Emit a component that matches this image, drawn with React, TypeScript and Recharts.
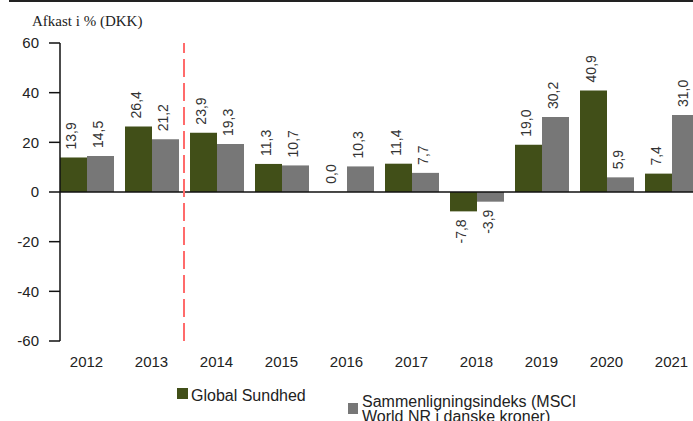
import { Bar, BarChart, LabelList, ReferenceLine, XAxis, YAxis } from "recharts";

const years = ["2012", "2013", "2014", "2015", "2016", "2017", "2018", "2019", "2020", "2021"];
const fund = [13.9, 26.4, 23.9, 11.3, 0.0, 11.4, -7.8, 19.0, 40.9, 7.4];
const index = [14.5, 21.2, 19.3, 10.7, 10.3, 7.7, -3.9, 30.2, 5.9, 31.0];
const yTicks = [-60, -40, -20, 0, 20, 40, 60];

const rows = years.map((year, i) => ({ year, fund: fund[i], index: index[i] }));

const SANS = '"Liberation Sans", Arial, Helvetica, sans-serif';
const GREEN = "#414f18";
const GREY = "#777777";

const fmt = (v: number) => Number(v).toFixed(1).replace(".", ",");

function ValueLabel(props: any) {
  const { x, y, width, height, value } = props;
  const h = Number(height) || 0;
  const top = Math.min(y, y + h);
  const bottom = Math.max(y, y + h);
  const cx = x + width / 2 + 2.5;
  const pos = Number(value) >= 0;
  const ly = pos ? top - 8 : bottom + 8;
  return (
    <text
      x={cx}
      y={ly}
      transform={`rotate(-90 ${cx} ${ly})`}
      textAnchor={pos ? "start" : "end"}
      fontSize={14}
      fontFamily={SANS}
      fill="#333"
    >
      {fmt(value)}
    </text>
  );
}

export default function App() {
  return (
    <div
      style={{
        position: "absolute",
        left: 0,
        top: 0,
        width: 693,
        height: 421,
        overflow: "hidden",
        background: "#fff",
      }}
    >
      <div style={{ position: "absolute", left: 9, right: 0, top: 0, height: 2, background: "#222" }} />
      <div
        style={{
          position: "absolute",
          left: 32,
          top: 14,
          fontFamily: '"Liberation Serif", "Times New Roman", serif',
          fontSize: 15,
          lineHeight: "15px",
          color: "#222",
          whiteSpace: "nowrap",
        }}
      >
        Afkast i % (DKK)
      </div>

      <div style={{ position: "absolute", left: 0, top: 0 }}>
        <BarChart
          width={704}
          height={421}
          data={rows}
          margin={{ top: 43, right: 0, bottom: 0, left: 0 }}
          barCategoryGap={6}
          barGap={0}
        >
          <XAxis
            dataKey="year"
            height={80}
            padding={{ left: -6, right: 0 }}
            axisLine={false}
            tickLine={false}
            tickSize={0}
            tickMargin={15}
            tick={{ fontSize: 15, fontFamily: SANS, fill: "#222" }}
            interval={0}
          />
          <YAxis
            width={60}
            domain={[-60, 60]}
            ticks={yTicks}
            interval={0}
            axisLine={{ stroke: "#111", strokeWidth: 1.5 }}
            tickLine={{ stroke: "#111", strokeWidth: 1.5 }}
            tickSize={11}
            tickMargin={10}
            tick={{ fontSize: 15, fontFamily: SANS, fill: "#222" }}
          />
          <Bar dataKey="fund" fill={GREEN} minPointSize={0.2} isAnimationActive={false}>
            <LabelList dataKey="fund" content={ValueLabel} />
          </Bar>
          <Bar dataKey="index" fill={GREY} isAnimationActive={false}>
            <LabelList dataKey="index" content={ValueLabel} />
          </Bar>
          <ReferenceLine y={0} stroke="#111" strokeWidth={1.5} />
          <ReferenceLine
            x="2014"
            position="start"
            stroke="#ff6b6b"
            strokeWidth={2}
            strokeDasharray="18 6"
          />
        </BarChart>
      </div>

      <div style={{ position: "absolute", left: 177, top: 388, width: 11, height: 11, background: GREEN }} />
      <div
        style={{
          position: "absolute",
          left: 191,
          top: 388,
          fontFamily: SANS,
          fontSize: 16,
          lineHeight: "16px",
          color: "#222",
          whiteSpace: "nowrap",
        }}
      >
        Global Sundhed
      </div>
      <div style={{ position: "absolute", left: 348, top: 403, width: 10, height: 11, background: GREY }} />
      <div
        style={{
          position: "absolute",
          left: 362,
          top: 395,
          fontFamily: SANS,
          fontSize: 16,
          lineHeight: "14.7px",
          color: "#222",
          whiteSpace: "nowrap",
        }}
      >
        Sammenligningsindeks (MSCI
        <br />
        World NR i danske kroner)
      </div>
    </div>
  );
}
